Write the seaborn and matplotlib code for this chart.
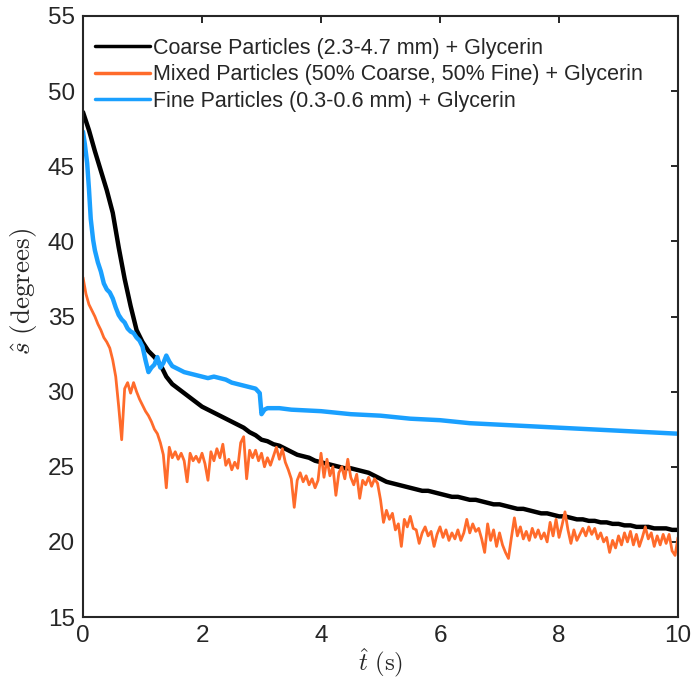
import matplotlib
matplotlib.use('Agg')
import matplotlib.pyplot as plt
import seaborn as sns

# Coarse particles (black)
t_coarse = [0.0, 0.1, 0.2, 0.3, 0.4, 0.5, 0.6, 0.7, 0.8, 0.9, 1.0, 1.1, 1.2, 1.3, 1.4, 1.5, 1.6, 1.7, 1.8, 1.9,
            2.0, 2.1, 2.2, 2.3, 2.4, 2.5, 2.6, 2.7, 2.8, 2.9, 3.0, 3.1, 3.2, 3.3, 3.4, 3.5, 3.6, 3.7, 3.8, 3.9,
            4.0, 4.1, 4.2, 4.3, 4.4, 4.5, 4.6, 4.7, 4.8, 4.9, 5.0, 5.1, 5.2, 5.3, 5.4, 5.5, 5.6, 5.7, 5.8, 5.9,
            6.0, 6.1, 6.2, 6.3, 6.4, 6.5, 6.6, 6.7, 6.8, 6.9, 7.0, 7.1, 7.2, 7.3, 7.4, 7.5, 7.6, 7.7, 7.8, 7.9,
            8.0, 8.1, 8.2, 8.3, 8.4, 8.5, 8.6, 8.7, 8.8, 8.9, 9.0, 9.1, 9.2, 9.3, 9.4, 9.5, 9.6, 9.7, 9.8, 9.9, 10.0]
s_coarse = [48.6, 47.4, 46.0, 44.7, 43.4, 41.9, 39.6, 37.5, 35.7, 34.1, 33.3, 32.7, 32.3, 31.8, 31.0, 30.5, 30.2, 29.9, 29.6, 29.3,
            29.0, 28.8, 28.6, 28.4, 28.2, 28.0, 27.8, 27.6, 27.3, 27.1, 26.8, 26.7, 26.5, 26.4, 26.2, 26.0, 25.8, 25.7, 25.6, 25.4,
            25.3, 25.2, 25.1, 25.0, 24.9, 24.9, 24.8, 24.7, 24.6, 24.4, 24.2, 24.0, 23.9, 23.8, 23.7, 23.6, 23.5, 23.4, 23.4, 23.3,
            23.2, 23.1, 23.0, 23.0, 22.9, 22.8, 22.8, 22.7, 22.6, 22.5, 22.5, 22.4, 22.3, 22.2, 22.2, 22.1, 22.0, 21.9, 21.9, 21.8,
            21.7, 21.7, 21.6, 21.5, 21.5, 21.4, 21.4, 21.3, 21.3, 21.2, 21.2, 21.1, 21.1, 21.0, 21.0, 21.0, 20.9, 20.9, 20.9, 20.8, 20.8]

# Mixed particles (orange)
t_mixed = [0.00, 0.05, 0.10, 0.15, 0.20, 0.25, 0.30, 0.35, 0.40, 0.45, 0.50, 0.55, 0.60, 0.65, 0.70, 0.75, 0.80, 0.85, 0.90, 0.95,
           1.00, 1.05, 1.10, 1.15, 1.20, 1.25, 1.30, 1.35, 1.40, 1.45, 1.50, 1.55, 1.60, 1.65, 1.70, 1.75, 1.80, 1.85, 1.90, 1.95,
           2.00, 2.05, 2.10, 2.15, 2.20, 2.25, 2.30, 2.35, 2.40, 2.45, 2.50, 2.55, 2.60, 2.65, 2.70, 2.75, 2.80, 2.85, 2.90, 2.95,
           3.00, 3.05, 3.10, 3.15, 3.20, 3.25, 3.30, 3.35, 3.40, 3.45, 3.50, 3.55, 3.60, 3.65, 3.70, 3.75, 3.80, 3.85, 3.90, 3.95,
           4.00, 4.05, 4.10, 4.15, 4.20, 4.25, 4.30, 4.35, 4.40, 4.45, 4.50, 4.55, 4.60, 4.65, 4.70, 4.75, 4.80, 4.85, 4.90, 4.95,
           5.00, 5.05, 5.10, 5.15, 5.20, 5.25, 5.30, 5.35, 5.40, 5.45, 5.50, 5.55, 5.60, 5.65, 5.70, 5.75, 5.80, 5.85, 5.90, 5.95,
           6.00, 6.05, 6.10, 6.15, 6.20, 6.25, 6.30, 6.35, 6.40, 6.45, 6.50, 6.55, 6.60, 6.65, 6.70, 6.75, 6.80, 6.85, 6.90, 6.95,
           7.00, 7.05, 7.10, 7.15, 7.20, 7.25, 7.30, 7.35, 7.40, 7.45, 7.50, 7.55, 7.60, 7.65, 7.70, 7.75, 7.80, 7.85, 7.90, 7.95,
           8.00, 8.05, 8.10, 8.15, 8.20, 8.25, 8.30, 8.35, 8.40, 8.45, 8.50, 8.55, 8.60, 8.65, 8.70, 8.75, 8.80, 8.85, 8.90, 8.95,
           9.00, 9.05, 9.10, 9.15, 9.20, 9.25, 9.30, 9.35, 9.40, 9.45, 9.50, 9.55, 9.60, 9.65, 9.70, 9.75, 9.80, 9.85, 9.90, 9.95, 10.00]
s_mixed = [37.6, 36.5, 35.8, 35.4, 35.0, 34.5, 34.1, 33.6, 33.3, 32.9, 32.1, 31.0, 29.0, 26.8, 30.2, 30.6, 29.9, 30.6, 30.0, 29.5,
           29.1, 28.7, 28.4, 28.0, 27.5, 27.2, 26.6, 25.8, 23.6, 26.3, 25.6, 26.0, 25.5, 25.9, 25.4, 24.0, 25.9, 25.4, 25.7, 25.3,
           25.9, 25.2, 24.1, 26.0, 25.4, 26.2, 25.6, 26.5, 25.1, 25.5, 24.8, 25.3, 24.9, 26.6, 27.0, 24.2, 26.1, 25.6, 26.1, 25.4,
           25.9, 25.0, 25.6, 25.1, 25.7, 26.3, 25.5, 26.2, 25.3, 24.8, 24.2, 22.3, 24.1, 24.6, 24.0, 24.4, 23.8, 24.2, 23.6, 24.1,
           25.9, 24.3, 25.5, 24.4, 25.0, 23.1, 24.6, 25.0, 24.2, 25.5, 24.3, 23.8, 24.5, 22.9, 24.1, 23.8, 24.3, 23.7, 24.2, 23.9,
           22.8, 21.3, 22.1, 21.5, 21.9, 20.8, 21.2, 19.7, 21.5, 21.0, 21.7, 20.9, 20.8, 19.9, 20.6, 21.0, 20.4, 20.7, 19.7, 20.5,
           21.0, 20.3, 20.8, 20.1, 20.6, 20.2, 20.8, 20.1, 20.6, 21.5, 20.6, 21.2, 20.7, 20.9, 20.2, 19.3, 21.2, 20.1, 20.8, 19.7,
           20.6, 19.8, 19.3, 18.9, 20.3, 21.6, 20.4, 21.0, 20.2, 20.7, 20.1, 20.9, 20.3, 20.8, 20.2, 20.6, 20.0, 21.3, 20.4, 21.5,
           20.3, 21.1, 22.0, 20.8, 19.9, 20.8, 20.1, 20.5, 20.9, 20.4, 21.0, 20.5, 20.9, 20.2, 20.6, 20.0, 20.3, 19.3, 20.1, 19.6,
           20.4, 19.8, 20.6, 20.0, 20.7, 19.8, 20.5, 19.7, 20.3, 21.0, 20.2, 20.6, 19.7, 20.4, 19.8, 20.5, 19.9, 20.5, 19.4, 19.1, 20.3]

# Fine particles (blue)
t_fine = [0.0, 0.03, 0.07, 0.1, 0.13, 0.17, 0.2, 0.25, 0.3, 0.35, 0.4, 0.45, 0.5, 0.55, 0.6, 0.65, 0.7, 0.75, 0.8, 0.85,
          0.9, 0.95, 1.0, 1.05, 1.1, 1.15, 1.2, 1.25, 1.3, 1.35, 1.4, 1.45, 1.5, 1.6, 1.7, 1.8, 1.9, 2.0, 2.1, 2.2,
          2.3, 2.4, 2.5, 2.6, 2.7, 2.8, 2.9, 2.97, 3.0, 3.05, 3.1, 3.2, 3.3, 3.5, 4.0, 4.5, 5.0, 5.5, 6.0, 6.5,
          7.0, 7.5, 8.0, 8.5, 9.0, 9.5, 10.0]
s_fine = [47.3, 46.5, 45.2, 43.5, 41.5, 40.1, 39.4, 38.6, 38.0, 37.2, 36.8, 36.6, 36.2, 35.6, 35.1, 34.8, 34.6, 34.2, 34.0, 33.9,
          33.6, 33.4, 33.0, 32.1, 31.3, 31.6, 31.8, 32.3, 31.6, 31.9, 32.4, 32.0, 31.7, 31.5, 31.3, 31.2, 31.1, 31.0, 30.9, 31.0,
          30.9, 30.8, 30.6, 30.5, 30.4, 30.3, 30.2, 29.9, 28.5, 28.8, 28.9, 28.9, 28.9, 28.8, 28.7, 28.5, 28.4, 28.2, 28.1, 27.9,
          27.8, 27.7, 27.6, 27.5, 27.4, 27.3, 27.2]

labels = ['Coarse Particles (2.3-4.7 mm) + Glycerin',
          'Mixed Particles (50% Coarse, 50% Fine) + Glycerin',
          'Fine Particles (0.3-0.6 mm) + Glycerin']
colors = ['#000000', '#FF6B2B', '#1AA0FF']

sns.set_style('white')
plt.rcParams['font.family'] = ['Liberation Sans', 'DejaVu Sans']
plt.rcParams['mathtext.fontset'] = 'cm'

fig = plt.figure(figsize=(6.94, 6.80), dpi=100)
ax = fig.add_axes([0.1196, 0.0926, 0.8574, 0.8839])

sns.lineplot(x=t_coarse, y=s_coarse, ax=ax, color=colors[0], lw=3.2, label=labels[0], sort=False, estimator=None)
sns.lineplot(x=t_mixed, y=s_mixed, ax=ax, color=colors[1], lw=2.0, label=labels[1], sort=False, estimator=None)
sns.lineplot(x=t_fine, y=s_fine, ax=ax, color=colors[2], lw=3.2, label=labels[2], sort=False, estimator=None)

ax.set_xlim(0, 10)
ax.set_ylim(15, 55)
ax.set_xticks([0, 2, 4, 6, 8, 10])
ax.set_yticks([15, 20, 25, 30, 35, 40, 45, 50, 55])
ax.tick_params(direction='in', length=5, width=1.4, top=True, right=True,
               labelsize=17.5, colors='#262626', pad=6)
for sp in ax.spines.values():
    sp.set_visible(True)
    sp.set_color('#262626')
    sp.set_linewidth(1.5)

ax.set_xlabel(r'$\hat{t}\ \mathrm{(s)}$', fontsize=18, color='#262626', labelpad=0)
ax.set_ylabel(r'$\hat{s}\ \mathrm{(degrees)}$', fontsize=19.5, color='#262626')
ax.yaxis.set_label_coords(-0.074, 0.542)

leg = ax.legend(loc='upper left', bbox_to_anchor=(0.006, 0.978), borderaxespad=0,
                frameon=False, fontsize=15.5, handlelength=2.55,
                handletextpad=0.15, labelspacing=0.26)
for line in leg.get_lines():
    line.set_linewidth(2.5)

fig.savefig('out.png', dpi=100)
